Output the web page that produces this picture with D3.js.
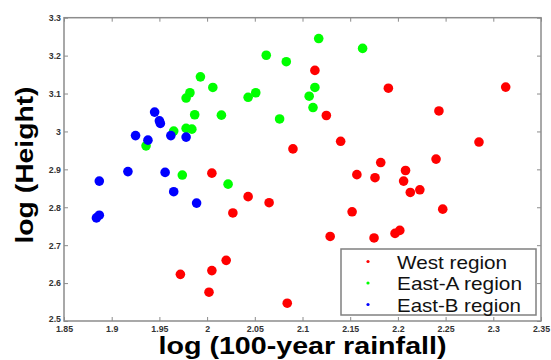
<!DOCTYPE html>
<html>
<head>
<meta charset="utf-8">
<script src="https://cdn.jsdelivr.net/npm/d3@7"></script>
<style>
  body { margin: 0; background: #fff; }
</style>
</head>
<body>
<div id="chart"></div>
<script>
// data (log values)
var seriesNames = ['West region', 'East-A region', 'East-B region']
var seriesColors = ['#ff0000', '#00ff00', '#0000ff']

var westX = [2.113, 2.190, 2.313, 2.243, 2.125, 2.140, 2.285, 2.090, 2.182, 2.240,
  2.208, 2.157, 2.176, 2.206, 2.213, 2.223, 2.005, 2.043, 2.065, 2.027,
  2.152, 2.247, 2.129, 2.175, 2.197, 2.202, 1.972, 2.005, 2.020, 2.002, 2.084]
var westY = [3.161, 3.114, 3.117, 3.054, 3.042, 2.974, 2.972, 2.954, 2.918, 2.927,
  2.897, 2.886, 2.878, 2.869, 2.839, 2.846, 2.890, 2.828, 2.812, 2.785,
  2.788, 2.795, 2.723, 2.719, 2.731, 2.739, 2.623, 2.633, 2.660, 2.576, 2.547]

var eastAX = [2.117, 2.163, 2.062, 2.083, 1.993, 2.006, 1.982, 1.978, 2.043, 2.051,
  2.113, 2.107, 2.111, 1.987, 2.015, 2.076, 1.965, 1.978, 1.984, 1.936, 1.974, 2.022]
var eastAY = [3.245, 3.219, 3.201, 3.184, 3.144, 3.116, 3.102, 3.088, 3.090, 3.102,
  3.116, 3.093, 3.063, 3.044, 3.043, 3.033, 3.001, 3.008, 3.006, 2.962, 2.885, 2.861]

var eastBX = [1.945, 1.950, 1.951, 1.925, 1.938, 1.962, 1.978, 1.917, 1.956, 1.887,
  1.965, 1.989, 1.887, 1.884]
var eastBY = [3.051, 3.028, 3.021, 2.989, 2.977, 2.989, 2.985, 2.894, 2.892, 2.869,
  2.841, 2.811, 2.779, 2.772]

var xTicks = [1.85, 1.9, 1.95, 2, 2.05, 2.1, 2.15, 2.2, 2.25, 2.3, 2.35]
var xTickLabels = ['1.85', '1.9', '1.95', '2', '2.05', '2.1', '2.15', '2.2', '2.25', '2.3', '2.35']
var yTicks = [2.5, 2.6, 2.7, 2.8, 2.9, 3, 3.1, 3.2, 3.3]
var yTickLabels = ['2.5', '2.6', '2.7', '2.8', '2.9', '3', '3.1', '3.2', '3.3']

// layout
var margin = { top: 17.7, left: 64 }
var width = 477
var height = 303.3

var svg = d3
  .select('#chart')
  .append('svg')
  .attr('width', 551)
  .attr('height', 360)
  .style('font-family', '"Liberation Sans", Arial, sans-serif')

var g = svg
  .append('g')
  .attr('transform', 'translate(' + margin.left + ',' + margin.top + ')')

var x = d3.scaleLinear().domain([1.85, 2.35]).range([0, width])
var y = d3.scaleLinear().domain([2.5, 3.3]).range([height, 0])

// axes, matlab style ticks pointing inwards
function styleAxis (sel) {
  sel.select('.domain').remove()
  sel.selectAll('.tick line').attr('stroke', '#8c8c8c').attr('stroke-width', 1)
  sel.selectAll('.tick text')
    .attr('fill', '#333')
    .attr('font-size', 8.8)
    .attr('font-weight', 'bold')
    .attr('font-family', '"Liberation Sans", Arial, sans-serif')
}

g.append('g')
  .attr('transform', 'translate(0,' + height + ')')
  .call(d3.axisBottom(x).tickValues(xTicks).tickSize(-4).tickPadding(5)
    .tickFormat((d, i) => xTickLabels[i]))
  .call(styleAxis)

g.append('g')
  .call(d3.axisTop(x).tickValues(xTicks).tickSize(-4).tickFormat(''))
  .call(styleAxis)

g.append('g')
  .call(d3.axisLeft(y).tickValues(yTicks).tickSize(-4).tickPadding(3)
    .tickFormat((d, i) => yTickLabels[i]))
  .call(styleAxis)
  // corner label sits a bit higher so it clears 1.85
  .selectAll('.tick text')
  .filter(d => d === 2.5)
  .attr('y', -2.5)

g.append('g')
  .attr('transform', 'translate(' + width + ',0)')
  .call(d3.axisRight(y).tickValues(yTicks).tickSize(-4).tickFormat(''))
  .call(styleAxis)

// frame
g.append('rect')
  .attr('width', width)
  .attr('height', height)
  .attr('fill', 'none')
  .attr('stroke', '#8c8c8c')
  .attr('stroke-width', 1.5)

// points
var series = [
  { name: seriesNames[0], xs: westX, ys: westY },
  { name: seriesNames[1], xs: eastAX, ys: eastAY },
  { name: seriesNames[2], xs: eastBX, ys: eastBY }
]

series.forEach((s, k) => {
  g.append('g')
    .selectAll('circle')
    .data(s.xs)
    .enter()
    .append('circle')
    .attr('cx', d => x(d))
    .attr('cy', (d, i) => y(s.ys[i]))
    .attr('r', 4.8)
    .attr('fill', seriesColors[k])
})

// axis titles
svg.append('text')
  .attr('x', margin.left + width / 2)
  .attr('y', 354)
  .attr('text-anchor', 'middle')
  .attr('font-size', 23)
  .attr('font-weight', 'bold')
  .attr('textLength', 288)
  .attr('lengthAdjust', 'spacingAndGlyphs')
  .text('log (100-year rainfall)')

svg.append('text')
  .attr('transform', 'translate(33,165) rotate(-90)')
  .attr('text-anchor', 'middle')
  .attr('font-size', 23)
  .attr('font-weight', 'bold')
  .attr('textLength', 157)
  .attr('lengthAdjust', 'spacingAndGlyphs')
  .text('log (Height)')

// legend
var legend = svg.append('g').attr('transform', 'translate(341,249)')
legend.append('rect')
  .attr('width', 195)
  .attr('height', 66)
  .attr('fill', '#fff')
  .attr('stroke', '#808080')
  .attr('stroke-width', 1.5)

var legendWidths = [110, 125, 124]
seriesNames.forEach((name, i) => {
  var row = legend.append('g').attr('transform', 'translate(0,' + (19.5 + i * 21.5) + ')')
  row.append('circle')
    .attr('cx', 27)
    .attr('cy', -7)
    .attr('r', 1.6)
    .attr('fill', seriesColors[i])
  row.append('text')
    .attr('x', 56)
    .attr('y', 0)
    .attr('font-size', 18.5)
    .attr('fill', '#111')
    .attr('textLength', legendWidths[i])
    .attr('lengthAdjust', 'spacingAndGlyphs')
    .text(name)
})
</script>
</body>
</html>
